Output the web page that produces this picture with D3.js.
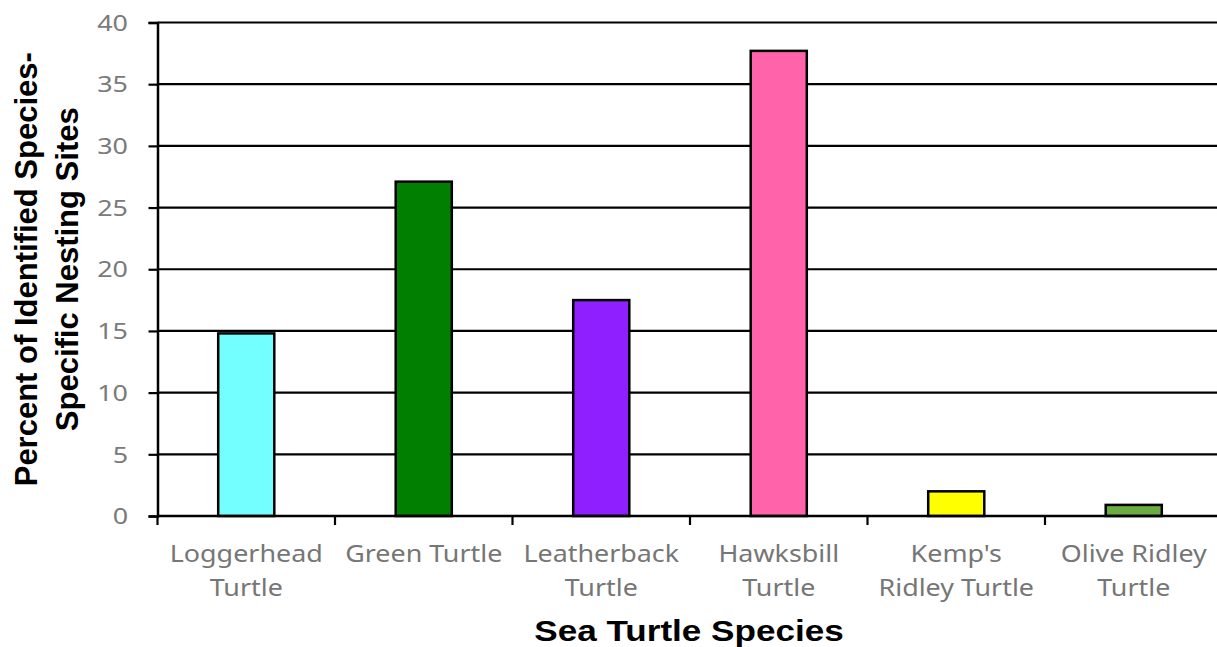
<!DOCTYPE html>
<html>
<head>
<meta charset="utf-8">
<script src="https://cdn.jsdelivr.net/npm/d3@7"></script>
<style>
  body { margin: 0; background: #fff; }
  svg { display: block; }
</style>
</head>
<body>
<div id="chart"></div>
<script>
// chart data
var species = ["Loggerhead Turtle", "Green Turtle", "Leatherback Turtle", "Hawksbill Turtle", "Kemp's Ridley Turtle", "Olive Ridley Turtle"];
var labelLines = [["Loggerhead", "Turtle"], ["Green Turtle"], ["Leatherback", "Turtle"], ["Hawksbill", "Turtle"], ["Kemp's", "Ridley Turtle"], ["Olive Ridley", "Turtle"]];
var percents = [14.8, 27.1, 17.5, 37.7, 2.0, 0.9];
var barColours = ["#73ffff", "#007f00", "#8f1fff", "#ff63aa", "#ffff00", "#6aac40"];
var yTicks = [0, 5, 10, 15, 20, 25, 30, 35, 40];

var width = 1217, height = 647;
var margin = {top: 22.5, right: -5.5, bottom: 131, left: 157.5}; // plot runs a little past the right edge

var svg = d3.select("#chart").append("svg")
    .attr("width", width)
    .attr("height", height);

var x = d3.scaleBand()
    .domain(species)
    .range([margin.left, width - margin.right])
    .paddingInner(0.684)
    .paddingOuter(0.342);

var y = d3.scaleLinear()
    .domain([0, 40])
    .range([height - margin.bottom, margin.top]);

// gridlines
svg.append("g")
    .selectAll("line")
    .data(yTicks.filter(function (d) { return d > 0; }))
    .enter().append("line")
    .attr("x1", margin.left)
    .attr("x2", width - margin.right)
    .attr("y1", function (d) { return y(d); })
    .attr("y2", function (d) { return y(d); })
    .attr("stroke", "#000")
    .attr("stroke-width", 2.2);

// bars
svg.append("g")
    .selectAll("rect")
    .data(percents)
    .enter().append("rect")
    .attr("x", function (d, i) { return x(species[i]); })
    .attr("y", function (d) { return y(d); })
    .attr("width", x.bandwidth())
    .attr("height", function (d) { return y(0) - y(d); })
    .attr("fill", function (d, i) { return barColours[i]; })
    .attr("stroke", "#000")
    .attr("stroke-width", 2.5);

// y axis
var yAxis = svg.append("g")
    .attr("transform", "translate(" + margin.left + ",0)")
    .call(d3.axisLeft(y).tickValues(yTicks).tickSize(9).tickPadding(0).tickFormat(d3.format("d")));
yAxis.select(".domain").attr("stroke", "#000").attr("stroke-width", 2.5);
yAxis.selectAll(".tick line").attr("stroke", "#000").attr("stroke-width", 2.2);
yAxis.selectAll(".tick text")
    .attr("x", 0)
    .attr("dy", "0.36em")
    .attr("fill", "#7a7a7a")
    .style("font-family", "'Noto Sans', sans-serif")
    .style("font-size", "21.5px")
    .attr("transform", "translate(-29.5,0) scale(1.25,1)");

// x axis: line at zero plus ticks on the category boundaries
var boundaries = species.map(function (s) { return x(s) + x.bandwidth() / 2 - x.step() / 2; });
boundaries.push(boundaries[boundaries.length - 1] + x.step());

var xAxis = svg.append("g");
xAxis.append("line")
    .attr("x1", margin.left)
    .attr("x2", width - margin.right)
    .attr("y1", y(0))
    .attr("y2", y(0))
    .attr("stroke", "#000")
    .attr("stroke-width", 2.5);
xAxis.selectAll(".xtick")
    .data(boundaries)
    .enter().append("line")
    .attr("class", "xtick")
    .attr("x1", function (d) { return d; })
    .attr("x2", function (d) { return d; })
    .attr("y1", y(0))
    .attr("y2", y(0) + 9)
    .attr("stroke", "#000")
    .attr("stroke-width", 2.2);

var labels = xAxis.selectAll(".xlabel")
    .data(labelLines)
    .enter().append("text")
    .attr("class", "xlabel")
    .attr("transform", function (d, i) {
        return "translate(" + (x(species[i]) + x.bandwidth() / 2) + "," + (y(0) + 45.5) + ") scale(1.12,1)";
    })
    .attr("text-anchor", "middle")
    .attr("fill", "#767676")
    .style("font-family", "'Noto Sans', sans-serif")
    .style("font-size", "24px");
labels.selectAll("tspan")
    .data(function (d) { return d; })
    .enter().append("tspan")
    .attr("x", 0)
    .attr("y", function (d, i) { return i * 34.5; })
    .text(function (d) { return d; });

// axis titles
svg.append("text")
    .attr("transform", "translate(" + ((margin.left + width - margin.right) / 2 - 1) + ",641) scale(1.19,1)")
    .attr("text-anchor", "middle")
    .style("font-family", "'Liberation Sans', Arial, sans-serif")
    .style("font-weight", "bold")
    .style("font-size", "29.5px")
    .text("Sea Turtle Species");

var yTitle = svg.append("text")
    .attr("transform", "translate(37," + ((y(0) + y(40)) / 2) + ") rotate(-90)")
    .attr("text-anchor", "middle")
    .style("font-family", "'Liberation Sans', Arial, sans-serif")
    .style("font-weight", "bold")
    .style("font-size", "31px");
yTitle.append("tspan").attr("x", 0).attr("y", 0).text("Percent of Identified Species-");
yTitle.append("tspan").attr("x", 0).attr("y", 41).text("Specific Nesting Sites");
</script>
</body>
</html>
